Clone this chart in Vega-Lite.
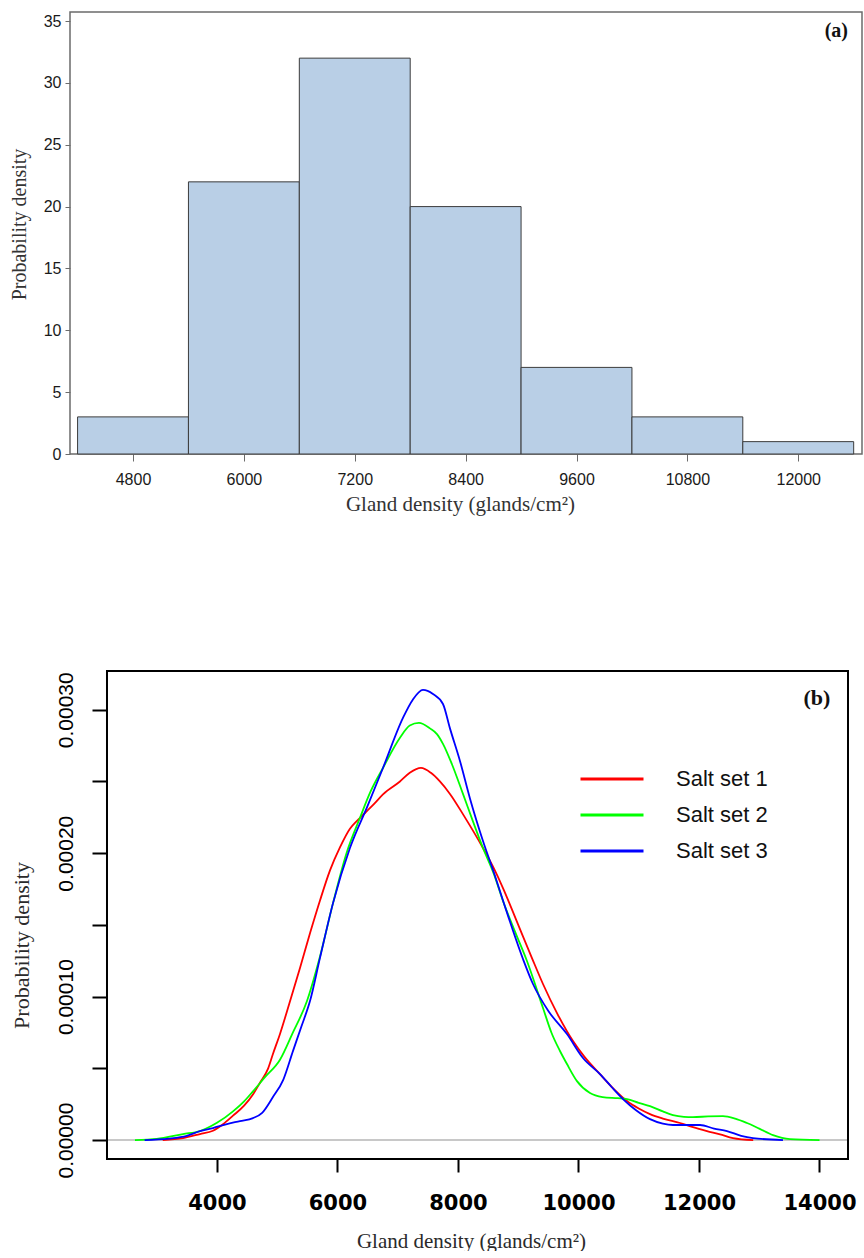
{
  "$schema": "https://vega.github.io/schema/vega-lite/v6.json",
  "padding": {"left": 8, "top": 11, "right": 0, "bottom": 0},
  "background": "white",
  "spacing": 155,
  "bounds": "full",
  "datasets": {
    "hist": [
      {"bin_start": 4200, "bin_end": 5400, "density": 3},
      {"bin_start": 5400, "bin_end": 6600, "density": 22},
      {"bin_start": 6600, "bin_end": 7800, "density": 32},
      {"bin_start": 7800, "bin_end": 9000, "density": 20},
      {"bin_start": 9000, "bin_end": 10200, "density": 7},
      {"bin_start": 10200, "bin_end": 11400, "density": 3},
      {"bin_start": 11400, "bin_end": 12600, "density": 1}
    ],
    "dens": [
      {"set": "Salt set 1", "x": 3100, "y": 0},
      {"set": "Salt set 1", "x": 3436, "y": 0.0000014},
      {"set": "Salt set 1", "x": 3718, "y": 0.0000042},
      {"set": "Salt set 1", "x": 3934, "y": 0.0000065},
      {"set": "Salt set 1", "x": 4100, "y": 0.000011},
      {"set": "Salt set 1", "x": 4266, "y": 0.000017},
      {"set": "Salt set 1", "x": 4450, "y": 0.000024},
      {"set": "Salt set 1", "x": 4600, "y": 0.000032},
      {"set": "Salt set 1", "x": 4714, "y": 0.00004},
      {"set": "Salt set 1", "x": 4850, "y": 0.00005},
      {"set": "Salt set 1", "x": 4929, "y": 0.00006},
      {"set": "Salt set 1", "x": 5046, "y": 0.000074},
      {"set": "Salt set 1", "x": 5200, "y": 0.000095},
      {"set": "Salt set 1", "x": 5378, "y": 0.00012},
      {"set": "Salt set 1", "x": 5550, "y": 0.000145},
      {"set": "Salt set 1", "x": 5710, "y": 0.000167},
      {"set": "Salt set 1", "x": 5876, "y": 0.000188},
      {"set": "Salt set 1", "x": 6041, "y": 0.000204},
      {"set": "Salt set 1", "x": 6207, "y": 0.000217},
      {"set": "Salt set 1", "x": 6324, "y": 0.0002225},
      {"set": "Salt set 1", "x": 6456, "y": 0.000228},
      {"set": "Salt set 1", "x": 6600, "y": 0.000234},
      {"set": "Salt set 1", "x": 6755, "y": 0.000241},
      {"set": "Salt set 1", "x": 7037, "y": 0.00025},
      {"set": "Salt set 1", "x": 7200, "y": 0.000256},
      {"set": "Salt set 1", "x": 7386, "y": 0.0002594},
      {"set": "Salt set 1", "x": 7550, "y": 0.000256},
      {"set": "Salt set 1", "x": 7700, "y": 0.00025},
      {"set": "Salt set 1", "x": 7867, "y": 0.0002413},
      {"set": "Salt set 1", "x": 8100, "y": 0.000226},
      {"set": "Salt set 1", "x": 8415, "y": 0.0002036},
      {"set": "Salt set 1", "x": 8600, "y": 0.000189},
      {"set": "Salt set 1", "x": 8747, "y": 0.0001757},
      {"set": "Salt set 1", "x": 9000, "y": 0.00015},
      {"set": "Salt set 1", "x": 9228, "y": 0.0001269},
      {"set": "Salt set 1", "x": 9411, "y": 0.0001088},
      {"set": "Salt set 1", "x": 9650, "y": 0.000088},
      {"set": "Salt set 1", "x": 9909, "y": 0.000069},
      {"set": "Salt set 1", "x": 10100, "y": 0.000058},
      {"set": "Salt set 1", "x": 10357, "y": 0.000046},
      {"set": "Salt set 1", "x": 10600, "y": 0.000035},
      {"set": "Salt set 1", "x": 10805, "y": 0.0000272},
      {"set": "Salt set 1", "x": 11000, "y": 0.000022},
      {"set": "Salt set 1", "x": 11187, "y": 0.0000181},
      {"set": "Salt set 1", "x": 11400, "y": 0.000015},
      {"set": "Salt set 1", "x": 11685, "y": 0.0000119},
      {"set": "Salt set 1", "x": 11900, "y": 0.000009},
      {"set": "Salt set 1", "x": 12133, "y": 0.0000063},
      {"set": "Salt set 1", "x": 12350, "y": 0.000004},
      {"set": "Salt set 1", "x": 12564, "y": 0.0000014},
      {"set": "Salt set 1", "x": 12900, "y": 0},
      {"set": "Salt set 2", "x": 2639, "y": 0},
      {"set": "Salt set 2", "x": 3000, "y": 0.0000008},
      {"set": "Salt set 2", "x": 3436, "y": 0.0000042},
      {"set": "Salt set 2", "x": 3718, "y": 0.0000063},
      {"set": "Salt set 2", "x": 4000, "y": 0.000012},
      {"set": "Salt set 2", "x": 4266, "y": 0.00002},
      {"set": "Salt set 2", "x": 4450, "y": 0.000027},
      {"set": "Salt set 2", "x": 4598, "y": 0.000034},
      {"set": "Salt set 2", "x": 4800, "y": 0.000044},
      {"set": "Salt set 2", "x": 5046, "y": 0.000056},
      {"set": "Salt set 2", "x": 5250, "y": 0.000074},
      {"set": "Salt set 2", "x": 5494, "y": 0.000097},
      {"set": "Salt set 2", "x": 5710, "y": 0.000128},
      {"set": "Salt set 2", "x": 5925, "y": 0.000165},
      {"set": "Salt set 2", "x": 6150, "y": 0.0002},
      {"set": "Salt set 2", "x": 6373, "y": 0.0002246},
      {"set": "Salt set 2", "x": 6550, "y": 0.000243},
      {"set": "Salt set 2", "x": 6755, "y": 0.0002594},
      {"set": "Salt set 2", "x": 7037, "y": 0.0002804},
      {"set": "Salt set 2", "x": 7200, "y": 0.000289},
      {"set": "Salt set 2", "x": 7353, "y": 0.0002908},
      {"set": "Salt set 2", "x": 7535, "y": 0.000287},
      {"set": "Salt set 2", "x": 7651, "y": 0.000283},
      {"set": "Salt set 2", "x": 7751, "y": 0.0002762},
      {"set": "Salt set 2", "x": 7900, "y": 0.000262},
      {"set": "Salt set 2", "x": 8083, "y": 0.0002413},
      {"set": "Salt set 2", "x": 8250, "y": 0.000222},
      {"set": "Salt set 2", "x": 8415, "y": 0.0002036},
      {"set": "Salt set 2", "x": 8600, "y": 0.000185},
      {"set": "Salt set 2", "x": 8747, "y": 0.0001667},
      {"set": "Salt set 2", "x": 8950, "y": 0.000145},
      {"set": "Salt set 2", "x": 9145, "y": 0.0001248},
      {"set": "Salt set 2", "x": 9411, "y": 0.0000921},
      {"set": "Salt set 2", "x": 9550, "y": 0.000075},
      {"set": "Salt set 2", "x": 9693, "y": 0.0000621},
      {"set": "Salt set 2", "x": 9809, "y": 0.000053},
      {"set": "Salt set 2", "x": 9975, "y": 0.0000411},
      {"set": "Salt set 2", "x": 10191, "y": 0.0000328},
      {"set": "Salt set 2", "x": 10400, "y": 0.00003},
      {"set": "Salt set 2", "x": 10650, "y": 0.0000292},
      {"set": "Salt set 2", "x": 10805, "y": 0.0000286},
      {"set": "Salt set 2", "x": 11000, "y": 0.000026},
      {"set": "Salt set 2", "x": 11187, "y": 0.0000237},
      {"set": "Salt set 2", "x": 11400, "y": 0.00002},
      {"set": "Salt set 2", "x": 11568, "y": 0.0000174},
      {"set": "Salt set 2", "x": 11750, "y": 0.0000162},
      {"set": "Salt set 2", "x": 11900, "y": 0.000016},
      {"set": "Salt set 2", "x": 12150, "y": 0.0000165},
      {"set": "Salt set 2", "x": 12398, "y": 0.0000167},
      {"set": "Salt set 2", "x": 12600, "y": 0.000015},
      {"set": "Salt set 2", "x": 12797, "y": 0.0000119},
      {"set": "Salt set 2", "x": 13000, "y": 0.000008},
      {"set": "Salt set 2", "x": 13228, "y": 0.0000035},
      {"set": "Salt set 2", "x": 13510, "y": 0.0000007},
      {"set": "Salt set 2", "x": 14000, "y": 0},
      {"set": "Salt set 3", "x": 2800, "y": 0},
      {"set": "Salt set 3", "x": 3200, "y": 0.000001},
      {"set": "Salt set 3", "x": 3500, "y": 0.000003},
      {"set": "Salt set 3", "x": 3718, "y": 0.0000063},
      {"set": "Salt set 3", "x": 3934, "y": 0.0000084},
      {"set": "Salt set 3", "x": 4150, "y": 0.000011},
      {"set": "Salt set 3", "x": 4382, "y": 0.0000132},
      {"set": "Salt set 3", "x": 4598, "y": 0.0000153},
      {"set": "Salt set 3", "x": 4750, "y": 0.000019},
      {"set": "Salt set 3", "x": 4929, "y": 0.00003},
      {"set": "Salt set 3", "x": 5100, "y": 0.000042},
      {"set": "Salt set 3", "x": 5261, "y": 0.000062},
      {"set": "Salt set 3", "x": 5400, "y": 0.000079},
      {"set": "Salt set 3", "x": 5544, "y": 0.0000969},
      {"set": "Salt set 3", "x": 5710, "y": 0.000127},
      {"set": "Salt set 3", "x": 5925, "y": 0.000165},
      {"set": "Salt set 3", "x": 6207, "y": 0.0002036},
      {"set": "Salt set 3", "x": 6500, "y": 0.000233},
      {"set": "Salt set 3", "x": 6755, "y": 0.0002594},
      {"set": "Salt set 3", "x": 7087, "y": 0.0002943},
      {"set": "Salt set 3", "x": 7250, "y": 0.000307},
      {"set": "Salt set 3", "x": 7419, "y": 0.0003138},
      {"set": "Salt set 3", "x": 7585, "y": 0.000311},
      {"set": "Salt set 3", "x": 7751, "y": 0.000304},
      {"set": "Salt set 3", "x": 7867, "y": 0.000287},
      {"set": "Salt set 3", "x": 8033, "y": 0.0002643},
      {"set": "Salt set 3", "x": 8200, "y": 0.000238},
      {"set": "Salt set 3", "x": 8415, "y": 0.0002085},
      {"set": "Salt set 3", "x": 8600, "y": 0.000186},
      {"set": "Salt set 3", "x": 8747, "y": 0.000167},
      {"set": "Salt set 3", "x": 9079, "y": 0.0001262},
      {"set": "Salt set 3", "x": 9245, "y": 0.0001088},
      {"set": "Salt set 3", "x": 9500, "y": 0.00009},
      {"set": "Salt set 3", "x": 9809, "y": 0.0000739},
      {"set": "Salt set 3", "x": 10075, "y": 0.0000572},
      {"set": "Salt set 3", "x": 10357, "y": 0.000046},
      {"set": "Salt set 3", "x": 10550, "y": 0.000037},
      {"set": "Salt set 3", "x": 10739, "y": 0.0000286},
      {"set": "Salt set 3", "x": 10950, "y": 0.000021},
      {"set": "Salt set 3", "x": 11187, "y": 0.0000146},
      {"set": "Salt set 3", "x": 11400, "y": 0.0000115},
      {"set": "Salt set 3", "x": 11568, "y": 0.0000105},
      {"set": "Salt set 3", "x": 12017, "y": 0.0000105},
      {"set": "Salt set 3", "x": 12250, "y": 0.000008},
      {"set": "Salt set 3", "x": 12465, "y": 0.0000063},
      {"set": "Salt set 3", "x": 12700, "y": 0.000003},
      {"set": "Salt set 3", "x": 12896, "y": 0.0000014},
      {"set": "Salt set 3", "x": 13394, "y": 0}
    ]
  },
  "vconcat": [
    {
      "width": 792,
      "height": 442,
      "view": {"stroke": "#6b6b6b", "strokeWidth": 1.5},
      "layer": [
        {
          "data": {"name": "hist"},
          "mark": {"type": "rect", "fill": "#B9CFE6", "stroke": "#3c3c3c", "strokeWidth": 1},
          "encoding": {
            "x": {
              "field": "bin_start", "type": "quantitative",
              "scale": {"domain": [4118, 12690], "nice": false, "zero": false},
              "axis": {
                "values": [4800, 6000, 7200, 8400, 9600, 10800, 12000],
                "format": "d", "grid": false, "domain": false,
                "tickColor": "#6b6b6b", "tickSize": 7, "tickWidth": 1,
                "labelPadding": 10, "labelFont": "Liberation Sans", "labelFontSize": 16,
                "labelColor": "#1a1a1a", "labelFlush": false,
                "title": "Gland density (glands/cm²)",
                "titleFont": "Liberation Serif", "titleFontSize": 21, "titleFontWeight": "normal",
                "titleColor": "#333333", "titleX": 390, "titleY": 56,
                "titleAlign": "center", "titleBaseline": "alphabetic"
              }
            },
            "x2": {"field": "bin_end"},
            "y": {
              "field": "density", "type": "quantitative",
              "scale": {"domain": [0, 35.73], "nice": false},
              "axis": {
                "values": [0, 5, 10, 15, 20, 25, 30, 35],
                "grid": false, "domain": false,
                "tickColor": "#6b6b6b", "tickSize": 5, "tickWidth": 1,
                "labelPadding": 4, "labelFont": "Liberation Sans", "labelFontSize": 16,
                "labelColor": "#1a1a1a", "labelFlush": false,
                "title": "Probability density",
                "titleFont": "Liberation Serif", "titleFontSize": 20, "titleFontWeight": "normal",
                "titleColor": "#333333", "titleAngle": 270, "titleX": -45, "titleY": 212,
                "titleAlign": "center", "titleBaseline": "alphabetic"
              }
            },
            "y2": {"datum": 0}
          }
        },
        {
          "data": {"values": [{"label": "(a)"}]},
          "mark": {"type": "text", "font": "Liberation Serif", "fontWeight": "bold", "fontSize": 20, "align": "center", "baseline": "middle", "color": "#111111"},
          "encoding": {
            "x": {"datum": 12412, "type": "quantitative"},
            "y": {"datum": 34.19, "type": "quantitative"},
            "text": {"field": "label"}
          }
        }
      ]
    },
    {
      "width": 778,
      "height": 488,
      "view": {"stroke": null},
      "layer": [
        {
          "data": {"values": [{"label": "baseline"}]},
          "mark": {"type": "rule", "color": "#C8C8C8", "strokeWidth": 2},
          "encoding": {
            "x": {"datum": 2175, "type": "quantitative"},
            "x2": {"datum": 14473},
            "y": {"datum": 0, "type": "quantitative"}
          }
        },
        {
          "data": {"name": "dens"},
          "mark": {"type": "line", "strokeWidth": 1.8, "interpolate": "monotone"},
          "encoding": {
            "x": {
              "field": "x", "type": "quantitative",
              "scale": {"domain": [1561, 14473], "nice": false, "zero": false},
              "axis": {
                "values": [4000, 6000, 8000, 10000, 12000, 14000],
                "format": "d", "grid": false, "domain": false,
                "tickColor": "#000000", "tickSize": 13, "tickWidth": 2,
                "labelPadding": 20, "labelFont": "DejaVu Sans", "labelFontWeight": "bold",
                "labelFontSize": 21, "labelColor": "#000000", "labelFlush": false,
                "title": "Gland density (glands/cm²)",
                "titleFont": "Liberation Serif", "titleFontSize": 21, "titleFontWeight": "normal",
                "titleColor": "#2a2a2a", "titleX": 401, "titleY": 88,
                "titleAlign": "center", "titleBaseline": "alphabetic"
              }
            },
            "y": {
              "field": "y", "type": "quantitative",
              "scale": {"domain": [-0.0000132, 0.000327], "nice": false, "zero": false},
              "axis": {
                "offset": -37,
                "values": [0, 0.00005, 0.0001, 0.00015, 0.0002, 0.00025, 0.0003],
                "format": ".5f",
                "labelExpr": "round(datum.value * 100000) % 10 === 0 ? datum.label : ''",
                "grid": false, "domain": false,
                "tickColor": "#000000", "tickSize": 15, "tickWidth": 2,
                "labelAngle": 270, "labelAlign": "center", "labelBaseline": "alphabetic",
                "labelPadding": 20, "labelFont": "Liberation Sans", "labelFontSize": 21,
                "labelColor": "#000000", "labelFlush": false, "labelOverlap": false,
                "title": "Probability density",
                "titleFont": "Liberation Serif", "titleFontSize": 22, "titleFontWeight": "normal",
                "titleColor": "#2a2a2a", "titleAngle": 270, "titleX": -79, "titleY": 274,
                "titleAlign": "center", "titleBaseline": "alphabetic"
              }
            },
            "color": {
              "field": "set", "type": "nominal",
              "scale": {"domain": ["Salt set 1", "Salt set 2", "Salt set 3"], "range": ["#FF0000", "#00FF00", "#0000FF"]},
              "legend": {
                "orient": "none", "legendX": 530, "legendY": 755, "title": null,
                "symbolType": "M-3,0H3", "symbolSize": 441, "symbolStrokeWidth": 3,
                "labelFont": "Liberation Sans", "labelFontSize": 22, "labelColor": "#111111",
                "labelOffset": 52, "rowPadding": 13, "padding": 0
              }
            }
          }
        },
        {
          "data": {"values": [{"label": "frame"}]},
          "mark": {"type": "rect", "filled": false, "stroke": "#000000", "strokeWidth": 2},
          "encoding": {
            "x": {"datum": 2175, "type": "quantitative"},
            "x2": {"datum": 14473},
            "y": {"datum": -0.0000132, "type": "quantitative"},
            "y2": {"datum": 0.000327}
          }
        },
        {
          "data": {"values": [{"label": "(b)"}]},
          "mark": {"type": "text", "font": "Liberation Serif", "fontWeight": "bold", "fontSize": 22, "align": "center", "baseline": "middle", "color": "#111111"},
          "encoding": {
            "x": {"datum": 13958, "type": "quantitative"},
            "y": {"datum": 0.000308, "type": "quantitative"},
            "text": {"field": "label"}
          }
        }
      ]
    }
  ]
}
